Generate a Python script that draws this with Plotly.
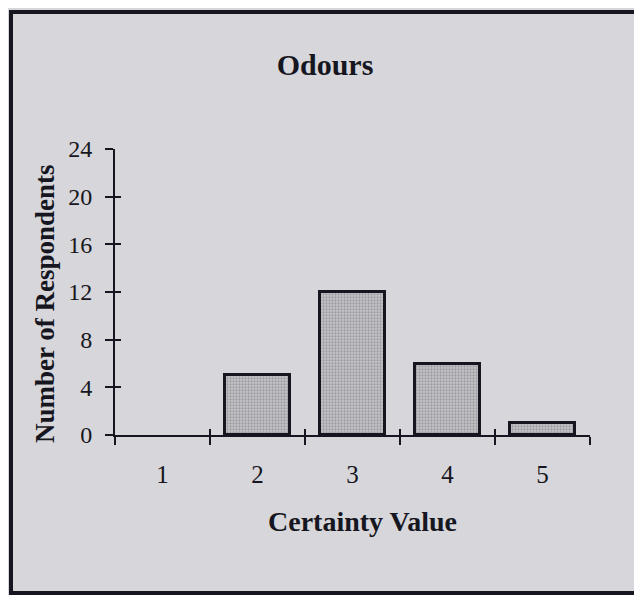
import plotly.graph_objects as go

categories = [1, 2, 3, 4, 5]
respondents = [0, 5, 12, 6, 1]
y_ticks = [0, 4, 8, 12, 16, 20, 24]
x_bounds = [0.5, 1.5, 2.5, 3.5, 4.5, 5.5]

# the page body adds an 8px margin, so work in shifted pixel coordinates
OFF = 8
W, H = 642 - OFF, 595 - OFF
PL, PR, PT, PB = 115, 590, 149, 435  # plot area in reference pixels
L, R, T, B = PL - OFF, W - (PR - OFF), PT - OFF, H - (PB - OFF)

ink = "#161620"
serif = "Liberation Serif, Times New Roman, serif"
bg = "#d7d6db"

fig = go.Figure()

fig.add_trace(
    go.Bar(
        x=categories,
        y=respondents,
        width=0.68,
        marker=dict(
            color="#bdbdc2",
            line=dict(color=ink, width=[3 if v > 0 else 0 for v in respondents]),
            pattern=dict(shape=".", fgcolor="#707076", bgcolor="#c6c6ca", size=3, solidity=0.45),
        ),
        showlegend=False,
        hoverinfo="x+y",
    )
)
# invisible traces so the overlay axes get drawn
fig.add_trace(go.Scatter(x=[1], y=[0], xaxis="x2", yaxis="y2", mode="markers",
                         marker=dict(opacity=0), showlegend=False, hoverinfo="skip"))
fig.add_trace(go.Scatter(x=[1], y=[0], xaxis="x3", yaxis="y", mode="markers",
                         marker=dict(opacity=0), showlegend=False, hoverinfo="skip"))

fig.update_layout(
    width=W,
    height=H,
    margin=dict(l=L, r=R, t=T, b=B),
    paper_bgcolor=bg,
    plot_bgcolor=bg,
    font=dict(family=serif, color=ink, size=24),
    bargap=0,
    title=dict(
        text="<b>Odours</b>",
        xref="container", yref="container",
        x=(325 - OFF) / W, y=1 - (64 - OFF) / H, xanchor="center", yanchor="middle",
        font=dict(family=serif, size=30, color=ink),
    ),
    xaxis=dict(
        range=[0.5, 5.5],
        tickmode="array", tickvals=x_bounds,
        ticks="outside", ticklen=8, tickwidth=1.5, tickcolor=ink,
        showticklabels=False,
        showline=True, linecolor=ink, linewidth=2,
        showgrid=False, zeroline=False, fixedrange=True,
    ),
    xaxis2=dict(
        overlaying="x", anchor="y", side="bottom",
        range=[0.5, 5.5],
        tickmode="array", tickvals=x_bounds,
        ticks="inside", ticklen=6, tickwidth=1.5, tickcolor=ink,
        showticklabels=False, showline=False, showgrid=False, zeroline=False,
    ),
    xaxis3=dict(
        overlaying="x", anchor="y", side="bottom",
        range=[0.5, 5.5],
        tickmode="array", tickvals=categories, ticktext=[str(c) for c in categories],
        ticks="", ticklabelstandoff=22,
        tickfont=dict(family=serif, size=25, color=ink),
        showline=False, showgrid=False, zeroline=False,
    ),
    yaxis=dict(
        range=[0, 24],
        tickmode="array", tickvals=y_ticks,
        ticks="outside", ticklen=8, tickwidth=1.5, tickcolor=ink,
        ticklabelstandoff=8,
        tickfont=dict(family=serif, size=24, color=ink),
        showline=True, linecolor=ink, linewidth=2,
        showgrid=False, zeroline=False, fixedrange=True,
    ),
    yaxis2=dict(
        overlaying="y", anchor="x", side="left",
        range=[0, 24],
        tickmode="array", tickvals=y_ticks,
        ticks="inside", ticklen=6, tickwidth=1.5, tickcolor=ink,
        showticklabels=False, showline=False, showgrid=False, zeroline=False,
    ),
)

pw, ph = W - L - R, H - T - B


def px_x(x):
    # reference pixel x -> paper coordinate
    return (x - PL) / pw


def px_y(y):
    # reference pixel y -> paper coordinate
    return (PB - y) / ph


fig.add_annotation(
    text="<b>Certainty Value</b>", xref="paper", yref="paper",
    x=px_x(362), y=px_y(521), xanchor="center", yanchor="middle",
    showarrow=False, font=dict(family=serif, size=28, color=ink),
)
fig.add_annotation(
    text="<b>Number of Respondents</b>", xref="paper", yref="paper",
    x=px_x(45), y=px_y(304), xanchor="center", yanchor="middle", textangle=-90,
    showarrow=False, font=dict(family=serif, size=27, color=ink),
)

# outer frame of the scanned figure
fig.add_shape(
    type="rect", xref="paper", yref="paper",
    x0=px_x(11), x1=px_x(637), y0=px_y(593), y1=px_y(12),
    line=dict(color=ink, width=4), fillcolor="rgba(0,0,0,0)", layer="below",
)

fig.write_html("out.html")
